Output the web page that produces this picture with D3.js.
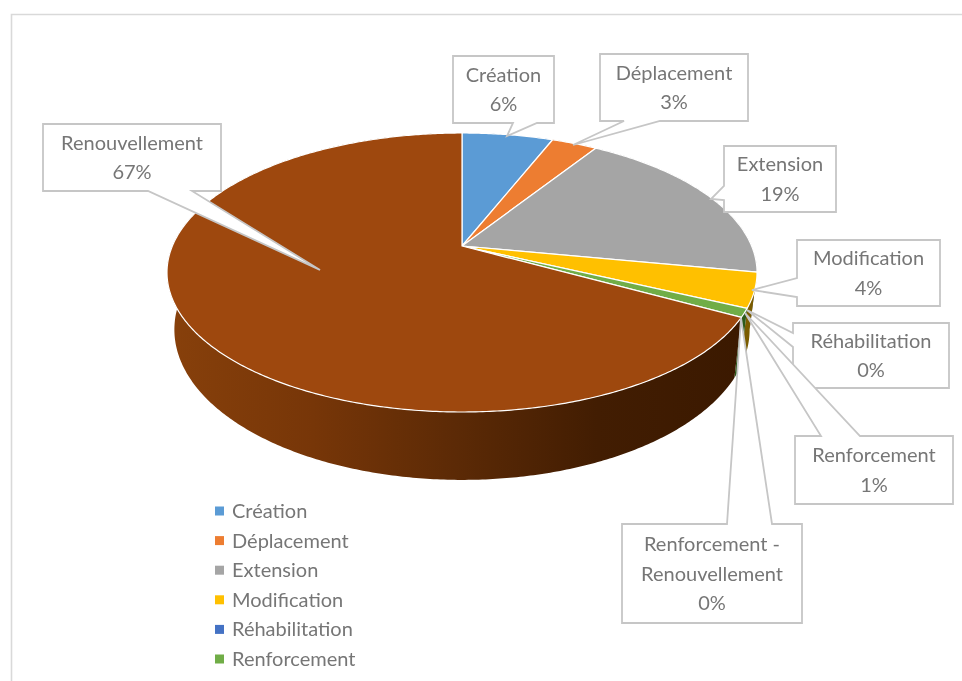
<!DOCTYPE html>
<html>
<head>
<meta charset="utf-8">
<script src="https://cdn.jsdelivr.net/npm/d3@7/dist/d3.min.js"></script>
<style>
html,body{margin:0;padding:0;background:#fff;overflow:hidden}
svg{display:block;filter:blur(0.55px)}
text{font-family:Lato,"Open Sans",sans-serif}
</style>
</head>
<body>
<svg id="chart" width="962" height="681"></svg>
<script>
const categories = ["Création","Déplacement","Extension","Modification","Réhabilitation","Renforcement","Renforcement - Renouvellement","Renouvellement"];
const shares = [6,3,19,4,0,1,0,67];
const sliceColours = ["#5B9BD5","#ED7D31","#A5A5A5","#FFC000","#4472C4","#70AD47","#264478","#9E480E"];
const wallColours = ["#3a5f82","#8f4b1d","#646464","#7a5c00","#2a4577","#2c5a1a","#16294a","url(#wall)"];
const legendCategories = categories.slice(0,6);

// Callout layout: box, side the pointer leaves from, pointer base and tip
const calloutLayout = [
  {i:0,x:453,y:56,w:101,h:67,side:"b",base:[513,537],tip:[507,136]},
  {i:1,x:600,y:54,w:148,h:67,side:"b",base:[624,660],tip:[573,145]},
  {i:2,x:724,y:146,w:112,h:66,side:"l",base:[186,200],tip:[711,199]},
  {i:3,x:797,y:240,w:143,h:66,side:"l",base:[278,297],tip:[752,290]},
  {i:4,x:793,y:323,w:156,h:65,side:"l",base:[333,347],tip:[747,310]},
  {i:5,x:795,y:436,w:158,h:68,side:"t",base:[821,860],tip:[745,313]},
  {i:6,x:622,y:524,w:180,h:99,side:"t",base:[727,772],tip:[741,318]},
  {i:7,x:43,y:124,w:178,h:67,side:"b",base:[148,192],tip:[320,270]}
];

const svg = d3.select("#chart");
const cx = 462, apexY = 246, farY = 133, nearY = 412, maxHalfWidth = 295;
const depth = 55, wallInset = 0.975;

// Perspective of the disc: t runs from -1 (far edge) to +1 (near edge)
const persp = (farY + nearY - 2*apexY) / (farY - nearY);
const slope = (nearY - apexY) + nearY * persp;
const radius = maxHalfWidth * Math.sqrt(1 - persp*persp);
const den = t => 1 + persp*t;
const rimTop = ang => {
  const s = Math.sin(ang), t = -Math.cos(ang);
  return [cx + radius*s/den(t), (slope*t + apexY)/den(t)];
};
const rimBottom = ang => {
  const p = rimTop(ang), t = -Math.cos(ang);
  return [cx + (p[0]-cx)*wallInset, p[1] + depth/den(t)];
};

const colour = d3.scaleOrdinal().domain(categories).range(sliceColours);
const wallColour = d3.scaleOrdinal().domain(categories).range(wallColours);
const pie = d3.pie().sort(null).value(d => d.v);
const arcs = pie(categories.map((k,i) => ({k, v:shares[i]})));
const pathLine = d3.line();
const sample = (s,e) => {
  const n = Math.max(2, Math.ceil((e-s)/0.01));
  return d3.range(n+1).map(i => s + (e-s)*i/n);
};

const defs = svg.append("defs");
const grad = defs.append("linearGradient").attr("id","wall")
  .attr("gradientUnits","userSpaceOnUse").attr("x1",170).attr("x2",740).attr("y1",0).attr("y2",0);
[[0,"#87400b"],[0.25,"#773608"],[0.5,"#5c2a06"],[0.75,"#421d02"],[1,"#3b1900"]].forEach(d =>
  grad.append("stop").attr("offset",d[0]).attr("stop-color",d[1]));

// Chart frame
svg.append("path").attr("d","M11.5,681V14.5H962").attr("fill","none").attr("stroke","#d9d9d9").attr("stroke-width",1.6);

// Walls
svg.append("g").selectAll("path").data(arcs).join("path")
  .attr("d", d => {
    const as = sample(d.startAngle,d.endAngle);
    return pathLine(as.map(rimTop).concat(as.slice().reverse().map(rimBottom))) + "Z";
  })
  .attr("fill", d => wallColour(d.data.k));

// Top faces
svg.append("g").selectAll("path").data(arcs.filter(d => d.data.v > 0)).join("path")
  .attr("d", d => pathLine([[cx,apexY]].concat(sample(d.startAngle,d.endAngle).map(rimTop))) + "Z")
  .attr("fill", d => colour(d.data.k))
  .attr("stroke","#fff").attr("stroke-width",1.2).attr("stroke-linejoin","round");

// Callouts
const calloutPath = b => {
  const r = b.x+b.w, u = b.y+b.h;
  const p = [];
  p.push([b.x,b.y]);
  if (b.side==="t") p.push([b.base[0],b.y],b.tip,[b.base[1],b.y]);
  p.push([r,b.y],[r,u]);
  if (b.side==="b") p.push([b.base[1],u],b.tip,[b.base[0],u]);
  p.push([b.x,u]);
  if (b.side==="l") p.push([b.x,b.base[1]],b.tip,[b.x,b.base[0]]);
  return pathLine(p) + "Z";
};
const callouts = svg.append("g").selectAll("g").data(calloutLayout).join("g");
callouts.append("path").attr("d",calloutPath)
  .attr("fill","#fff").attr("stroke","#c6c6c6").attr("stroke-width",1.8).attr("stroke-linejoin","miter");
const labelLines = i => {
  const name = categories[i];
  const parts = name.includes(" - ") ? [name.split(" - ")[0]+" -", name.split(" - ")[1]] : [name];
  return parts.concat([shares[i]+"%"]);
};
callouts.each(function(b){
  const g = d3.select(this), lines = labelLines(b.i);
  const step = 29.5, startY = b.y + b.h/2 - step*(lines.length-1)/2;
  g.selectAll("text").data(lines).join("text")
    .attr("x", b.x + b.w/2)
    .attr("y", (d,j) => startY + j*step)
    .attr("dy","0.35em")
    .attr("text-anchor","middle")
    .attr("font-size",20)
    .attr("fill","#767676")
    .text(d => d);
});

// Legend
const legendY = d3.scalePoint().domain(legendCategories).range([511,659]);
const legend = svg.append("g").selectAll("g").data(legendCategories).join("g")
  .attr("transform", d => `translate(215,${legendY(d)})`);
legend.append("rect").attr("x",0).attr("y",-4.5).attr("width",9).attr("height",9).attr("fill",d => colour(d));
legend.append("text").attr("x",17).attr("dy","0.35em").attr("font-size",20).attr("fill","#767676").text(d => d);
</script>
</body>
</html>
